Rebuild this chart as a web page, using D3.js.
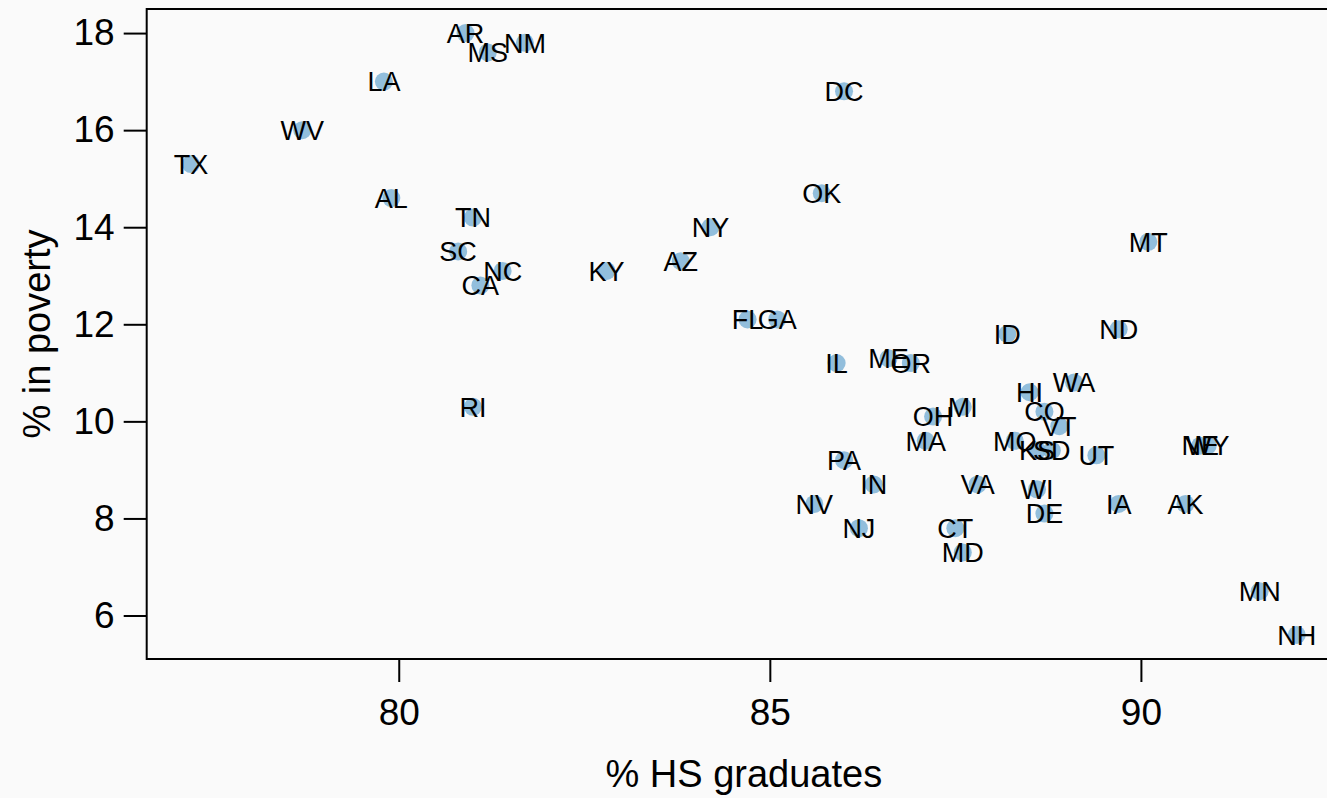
<!DOCTYPE html>
<html>
<head>
<meta charset="utf-8">
<script src="https://cdn.jsdelivr.net/npm/d3@7"></script>
<style>
  html, body { margin: 0; padding: 0; background: #fafafa; }
  svg { display: block; font-family: "Liberation Sans", Arial, Helvetica, sans-serif; }
</style>
</head>
<body>
<svg id="chart" width="1327" height="798"></svg>
<script>
// State abbreviations with % high-school graduates and % in poverty
const states = ["AL","AK","AZ","AR","CA","CO","CT","DE","DC","FL","GA","HI","ID","IL","IN","IA","KS","KY","LA","ME","MD","MA","MI","MN","MS","MO","MT","NE","NV","NH","NJ","NM","NY","NC","ND","OH","OK","OR","PA","RI","SC","SD","TN","TX","UT","VT","VA","WA","WV","WI","WY"];
const hsGrad = [79.9,90.6,83.8,80.9,81.1,88.7,87.5,88.7,86.0,84.7,85.1,88.5,88.2,85.9,86.4,89.7,88.6,82.8,79.8,86.6,87.6,87.1,87.6,91.6,81.2,88.3,90.1,90.8,85.6,92.1,86.2,81.7,84.2,81.4,89.7,87.2,85.7,86.9,86.0,81.0,80.8,88.8,81.0,77.2,89.4,88.9,87.8,89.1,78.7,88.6,90.9];
const poverty = [14.6,8.3,13.3,18.0,12.8,10.2,7.8,8.1,16.8,12.1,12.1,10.6,11.8,11.2,8.7,8.3,9.4,13.1,17.0,11.3,7.3,9.6,10.3,6.5,17.6,9.6,13.7,9.5,8.3,5.6,7.8,17.8,14.0,13.1,11.9,10.1,14.7,11.2,9.2,10.3,13.5,9.4,14.2,15.3,9.3,9.9,8.7,10.8,16.0,8.6,9.5];
const xTicks = [80, 85, 90];
const yTicks = [6, 8, 10, 12, 14, 16, 18];

const svg = d3.select("#chart");
const plotLeft = 146.7, plotTop = 9, plotRight = 1341, plotBottom = 659;

// 4% padding on each side of the data range
function padded(vals) {
  const [lo, hi] = d3.extent(vals);
  const p = (hi - lo) * 0.04;
  return [lo - p, hi + p];
}

const x = d3.scaleLinear().domain(padded(hsGrad)).range([plotLeft, plotRight]);
const y = d3.scaleLinear().domain(padded(poverty)).range([plotBottom, plotTop]);

// points and labels
const data = states.map((s, i) => ({ s, x: hsGrad[i], y: poverty[i] }));

svg.append("g").selectAll("circle").data(data).join("circle")
  .attr("cx", d => x(d.x)).attr("cy", d => y(d.y)).attr("r", 9)
  .attr("fill", "#7fb3d6").attr("fill-opacity", 0.85);

svg.append("g").selectAll("text").data(data).join("text")
  .attr("x", d => x(d.x)).attr("y", d => y(d.y)).attr("dy", "0.36em")
  .attr("text-anchor", "middle").attr("font-size", 27).attr("fill", "#000")
  .text(d => d.s);

// frame
svg.append("rect").attr("x", plotLeft).attr("y", plotTop)
  .attr("width", plotRight - plotLeft).attr("height", plotBottom - plotTop)
  .attr("fill", "none").attr("stroke", "#000").attr("stroke-width", 2);

// axes
const xAxis = svg.append("g").attr("transform", `translate(0,${plotBottom})`)
  .call(d3.axisBottom(x).tickValues(xTicks).tickSize(23).tickPadding(17).tickFormat(d3.format("d")));
const yAxis = svg.append("g").attr("transform", `translate(${plotLeft},0)`)
  .call(d3.axisLeft(y).tickValues(yTicks).tickSize(23).tickPadding(9).tickFormat(d3.format("d")));
[xAxis, yAxis].forEach(g => {
  g.select(".domain").remove();
  g.selectAll(".tick line").attr("stroke", "#000").attr("stroke-width", 2);
  g.selectAll(".tick text").attr("font-size", 37).attr("fill", "#000")
    .attr("font-family", "'Liberation Sans', Arial, Helvetica, sans-serif");
});

// axis titles
svg.append("text").attr("x", (plotLeft + plotRight) / 2).attr("y", 787)
  .attr("text-anchor", "middle").attr("font-size", 38).attr("fill", "#000")
  .text("% HS graduates");
svg.append("text").attr("transform", `translate(50,${(plotTop + plotBottom) / 2}) rotate(-90)`)
  .attr("text-anchor", "middle").attr("font-size", 38).attr("fill", "#000")
  .text("% in poverty");
</script>
</body>
</html>
